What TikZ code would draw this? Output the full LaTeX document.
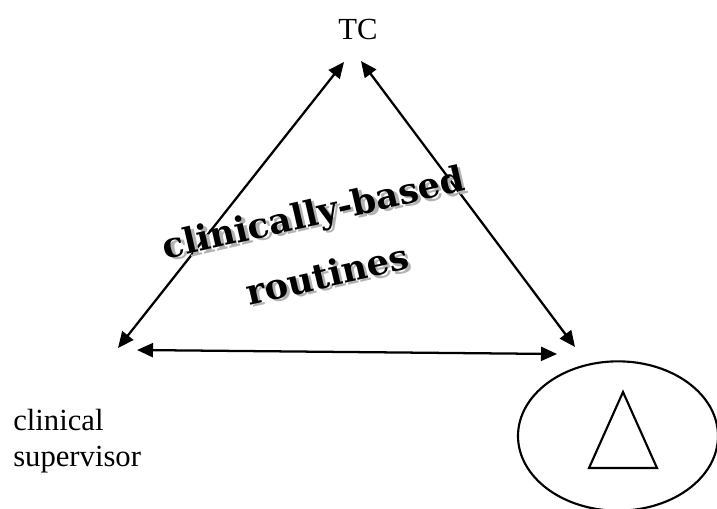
\documentclass[tikz,border=0pt]{standalone}
\usepackage{fontspec}
\setmainfont{Liberation Serif}
\newfontfamily\artfont{DejaVu Serif}
\usetikzlibrary{arrows.meta,positioning,shapes.geometric}
\newcommand{\embossed}[1]{\rlap{\hspace{2.2pt}\raisebox{-2.2pt}{\color{black!30}#1}}#1}

\begin{document}
\begin{tikzpicture}[x=0.75pt,y=-0.75pt,>={Triangle[length=12pt,width=10.5pt]},
    link/.style={<->,line width=1.7pt},
    label/.style={inner sep=0pt,font=\fontsize{23}{27}\selectfont},
    wordart/.style={inner sep=0pt,anchor=base,rotate=13,
                    font=\artfont\bfseries\fontsize{26.5}{30}\selectfont}]
  \useasboundingbox (0,0) rectangle (717,508);
  % the three corners
  \node[label,anchor=base] (tc) at (358,39) {TC};
  \node[label,anchor=base west] (sup) at (13,430) {clinical};
  \node[label,anchor=base west] (sup2) at (13,466) {supervisor};
  \node[draw,ellipse,line width=1.6pt,minimum width=150pt,minimum height=112pt,
        inner sep=0pt] (grp) at (618,436) {};
  \draw[line width=1.6pt,line join=miter] (623,392) -- (589,468) -- (657,468) -- cycle;
  % arrow ends
  \coordinate (tcL) at (344,62);
  \coordinate (tcR) at (361,61);
  \coordinate (supT) at (118,348);
  \coordinate (supR) at (137,350);
  \coordinate (grpL) at (557,354);
  \coordinate (grpT) at (575,347);
  \draw[link] (supT) -- (tcL);
  \draw[link] (tcR) -- (grpT);
  \draw[link] (supR) -- (grpL);
  % middle text
  \node[wordart] (clin) at (316,225) {\embossed{clinically-based}};
  \node[wordart] (rout) at (330,287) {\embossed{routines}};
\end{tikzpicture}
\end{document}
